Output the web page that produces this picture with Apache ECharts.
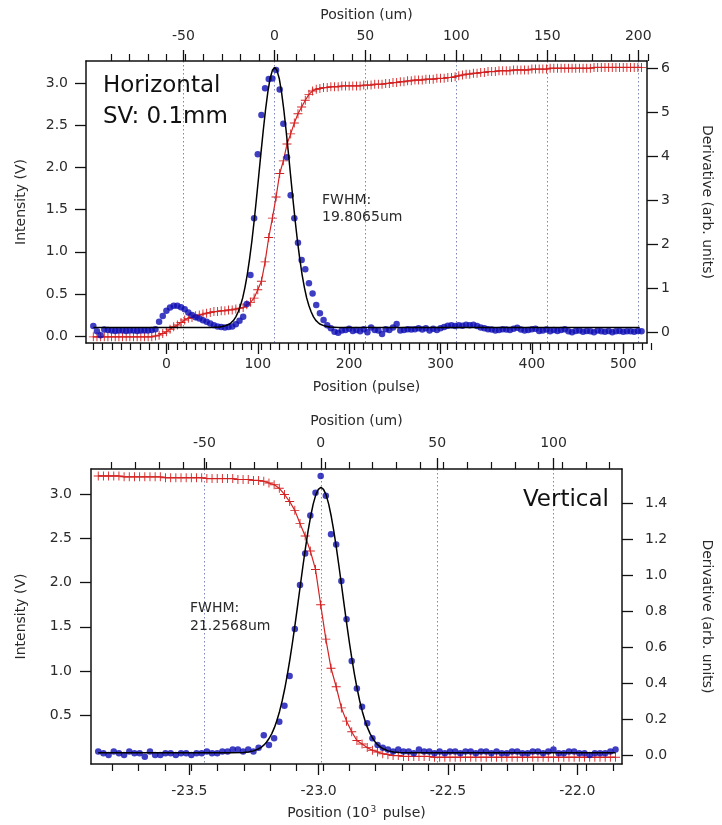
<!DOCTYPE html>
<html><head><meta charset="utf-8">
<script src="https://cdn.jsdelivr.net/npm/echarts@6/dist/echarts.min.js"></script>
<style>html,body{margin:0;padding:0;background:#fff}#c{width:722px;height:825px}</style>
</head><body><div id="c"></div>
<script>
// ===== Top panel: Horizontal scan (x in pulses, sampled every 4 pulses) =====
const topPulseStart = -80, topPulseStep = 4;
// derivative (arb. units, right axis) - blue dots
const topDeriv = [
 0.15,0.03,-0.06,0.07,0.06,0.05,0.04,0.05,0.05,0.04,
 0.05,0.05,0.04,0.05,0.05,0.05,0.06,0.08,0.25,0.38,
 0.50,0.57,0.61,0.61,0.58,0.53,0.46,0.40,0.35,0.32,
 0.28,0.25,0.21,0.17,0.14,0.13,0.12,0.13,0.14,0.19,
 0.27,0.36,0.65,1.31,2.60,4.05,4.94,5.55,5.76,5.77,
 5.96,5.52,4.74,3.98,3.12,2.60,2.04,1.65,1.44,1.12,
 0.89,0.63,0.44,0.29,0.17,0.10,0.02,0.00,0.05,0.06,
 0.09,0.04,0.06,0.03,0.08,0.01,0.12,0.06,0.05,-0.03,
 0.08,0.06,0.12,0.20,0.05,0.06,0.08,0.07,0.08,0.10,
 0.07,0.10,0.05,0.09,0.06,0.10,0.13,0.16,0.17,0.15,
 0.17,0.16,0.18,0.17,0.18,0.15,0.12,0.10,0.08,0.07,
 0.05,0.06,0.08,0.07,0.06,0.09,0.11,0.07,0.05,0.06,
 0.08,0.09,0.04,0.05,0.07,0.03,0.06,0.04,0.06,0.08,
 0.03,0.01,0.04,0.05,0.02,0.04,0.03,0.01,0.05,0.03,
 0.02,0.04,0.01,0.03,0.04,0.02,0.03,0.03,0.02,0.04,
 0.03];
// intensity (V, left axis) - red crosses
const topIntensity = [
 -0.01,-0.01,-0.01,-0.01,-0.01,-0.01,-0.01,-0.01,-0.01,-0.01,
 -0.01,-0.01,-0.01,-0.01,-0.01,-0.01,-0.01,0.00,0.01,0.03,
 0.05,0.08,0.11,0.13,0.16,0.19,0.21,0.22,0.24,0.25,
 0.26,0.27,0.28,0.29,0.29,0.30,0.30,0.31,0.31,0.32,
 0.33,0.34,0.37,0.40,0.45,0.55,0.65,0.88,1.17,1.40,
 1.65,1.93,2.08,2.28,2.40,2.53,2.64,2.72,2.80,2.87,
 2.91,2.93,2.94,2.95,2.95,2.96,2.96,2.96,2.97,2.97,
 2.97,2.97,2.97,2.97,2.98,2.98,2.98,2.99,2.99,2.99,
 3.00,3.00,3.01,3.01,3.02,3.02,3.03,3.03,3.04,3.04,
 3.04,3.05,3.05,3.05,3.06,3.06,3.06,3.07,3.07,3.08,
 3.09,3.10,3.11,3.11,3.12,3.12,3.13,3.13,3.14,3.14,
 3.14,3.15,3.15,3.15,3.15,3.16,3.16,3.16,3.16,3.16,
 3.17,3.17,3.17,3.17,3.17,3.18,3.18,3.18,3.18,3.18,
 3.18,3.18,3.18,3.18,3.18,3.18,3.18,3.19,3.19,3.19,
 3.19,3.19,3.19,3.19,3.19,3.19,3.19,3.19,3.19,3.19,
 3.19];
// Gaussian fit of derivative (black line)
const topFitX = [-80,48.5,58.5,63.5,68.5,71,73.5,76,78.5,81,83.5,86,88.5,91,93.5,96,98.5,101,103.5,106,108.5,111,113.5,116,118.5,
 121,123.5,126,128.5,131,133.5,136,138.5,141,143.5,146,148.5,151,153.5,156,158.5,161,163.5,166,168.5,173.5,178.5,188.5,518];
const topFitY = [0.12,0.12,0.13,0.15,0.19,0.23,0.28,0.36,0.47,0.61,0.79,1.03,1.32,1.67,2.07,2.53,3.03,3.55,4.08,4.59,5.06,5.46,5.77,5.955,6.02,
 5.955,5.77,5.46,5.06,4.59,4.08,3.55,3.03,2.53,2.07,1.67,1.32,1.03,0.79,0.61,0.47,0.36,0.28,0.23,0.19,0.15,0.13,0.12,0.12];
const topPulseTicks = [0,100,200,300,400,500];
const topUmTicks = [-50,0,50,100,150,200];
const topIntTicks = [0,0.5,1,1.5,2,2.5,3];
const topDerTicks = [0,1,2,3,4,5,6];

// ===== Bottom panel: Vertical scan (x in 10^3 pulses, sampled every 0.02) =====
const botStart = -23.852, botStep = 0.02;
const botDeriv = [
 0.02,0.01,0.00,0.02,0.01,0.00,0.02,0.01,0.01,-0.01,
 0.02,0.00,0.00,0.01,0.01,0.00,0.01,0.01,0.00,0.01,
 0.01,0.02,0.01,0.01,0.02,0.02,0.03,0.03,0.02,0.03,
 0.02,0.04,0.11,0.056,0.093,0.185,0.274,0.439,0.70,0.944,
 1.12,1.33,1.457,1.55,1.44,1.226,1.17,0.967,0.754,0.522,
 0.37,0.268,0.176,0.093,0.056,0.04,0.03,0.02,0.03,0.02,
 0.02,0.01,0.03,0.02,0.02,0.01,0.02,0.01,0.02,0.02,
 0.01,0.02,0.02,0.01,0.02,0.02,0.01,0.02,0.01,0.01,
 0.02,0.02,0.01,0.01,0.02,0.02,0.01,0.02,0.03,0.01,
 0.01,0.02,0.02,0.01,0.01,0.00,0.01,0.01,0.01,0.02,
 0.03];
const botIntensity = [
 3.21,3.21,3.21,3.21,3.21,3.20,3.20,3.20,3.20,3.20,
 3.20,3.20,3.20,3.19,3.19,3.19,3.19,3.19,3.19,3.19,
 3.19,3.18,3.18,3.18,3.18,3.18,3.18,3.17,3.17,3.17,
 3.16,3.16,3.15,3.13,3.11,3.07,3.00,2.92,2.82,2.67,
 2.53,2.36,2.15,1.75,1.36,1.03,0.82,0.58,0.43,0.31,
 0.21,0.17,0.13,0.10,0.08,0.06,0.05,0.04,0.04,0.03,
 0.03,0.03,0.03,0.03,0.03,0.02,0.02,0.02,0.02,0.02,
 0.02,0.02,0.02,0.02,0.02,0.02,0.02,0.02,0.02,0.02,
 0.02,0.02,0.02,0.02,0.02,0.02,0.02,0.02,0.02,0.02,
 0.02,0.02,0.02,0.02,0.02,0.02,0.02,0.02,0.02,0.02,
 0.02];
const botFitX = [-23.852,-23.341,-23.291,-23.271,-23.251,-23.231,-23.221,-23.211,-23.201,-23.191,-23.181,-23.171,-23.161,-23.151,-23.141,
 -23.131,-23.121,-23.111,-23.101,-23.091,-23.081,-23.071,-23.061,-23.051,-23.041,-23.031,-23.021,-23.011,-23.001,-22.991,
 -22.981,-22.971,-22.961,-22.951,-22.941,-22.931,-22.921,-22.911,-22.901,-22.891,-22.881,-22.871,-22.861,-22.851,-22.841,
 -22.831,-22.821,-22.811,-22.801,-22.791,-22.781,-22.771,-22.761,-22.751,-22.731,-22.711,-22.691,-22.641,-21.852];
const botFitY = [0.012,0.012,0.014,0.017,0.023,0.035,0.044,0.056,0.072,0.093,0.119,0.152,0.193,0.242,0.300,
 0.368,0.445,0.531,0.625,0.726,0.831,0.939,1.046,1.148,1.242,1.325,1.394,1.445,1.476,1.487,
 1.476,1.445,1.394,1.325,1.242,1.148,1.046,0.939,0.831,0.726,0.625,0.531,0.445,0.368,0.300,
 0.242,0.193,0.152,0.119,0.093,0.072,0.056,0.044,0.035,0.023,0.017,0.014,0.012,0.012];
const botPulseTicks = [-23.5,-23.0,-22.5,-22.0];
const botUmTicks = [-50,0,50,100];
const botIntTicks = [0.5,1,1.5,2,2.5,3];
const botDerTicks = [0,0.2,0.4,0.6,0.8,1.0,1.2,1.4];

// ---------- helpers ----------
function range(a, b, s, d) { const r = []; for (let v = a; v <= b + s / 1000; v += s) r.push(+v.toFixed(d)); return r; }
const topPulseMinor = range(-80, 520, 10, 0);
const topUmMinor = range(-90, 200, 10, 0);
const botPulseMinor = range(-23.8, -21.9, 0.1, 1);
const botUmMinor = range(-90, 120, 10, 0);
function sampled(start, step, arr) { return arr.map((v, i) => [+(start + i * step).toFixed(4), v]); }
function zip(xs, ys) { return xs.map((x, i) => [x, ys[i]]); }

const FONT = 'DejaVu Sans', TXT = '#2a2a2a', AX = '#111';
const RED = '#d42222', BLUE = '#0e0eb4';
const CROSS = 'path://M0,4.5H10V5.5H0Z M4.5,0H5.5V10H4.5Z';

function majorAxis(gi, pos, min, max, ticks, fmt, margin, name, nameGap, split, extra) {
  const ax = {
    type: 'value', gridIndex: gi, position: pos, min: min, max: max,
    axisLine: { show: true, onZero: false, lineStyle: { color: AX, width: 1.5 } },
    axisTick: { show: true, inside: false, length: 11, customValues: ticks, lineStyle: { color: AX, width: 1.3 } },
    axisLabel: { show: true, customValues: ticks, formatter: fmt, margin: margin, color: TXT, fontSize: 14, fontFamily: FONT },
    splitLine: split ? { show: true, lineStyle: { type: [1.5, 2.5], color: '#7c86b4', width: 1 } } : { show: false },
    name: name, nameLocation: 'middle', nameGap: nameGap,
    nameTextStyle: { color: TXT, fontSize: 14, fontFamily: FONT }
  };
  if (extra) Object.keys(extra).forEach(k => { ax[k] = extra[k]; });
  return ax;
}
function minorAxis(gi, pos, min, max, ticks) {
  return {
    type: 'value', gridIndex: gi, position: pos, min: min, max: max,
    axisLine: { show: false, onZero: false },
    axisTick: { show: true, inside: false, length: 7, customValues: ticks, lineStyle: { color: AX, width: 1.2 } },
    axisLabel: { show: false }, splitLine: { show: false }
  };
}
const f1 = v => v.toFixed(1), f0 = v => String(v);

const option = {
  animation: false,
  backgroundColor: '#fff',
  grid: [
    { left: 86, top: 61, width: 571, height: 282 },
    { left: 86, top: 61, width: 571, height: 282 },
    { left: 91, top: 469, width: 541, height: 295 },
    { left: 91, top: 469, width: 541, height: 295 }
  ],
  xAxis: [
    majorAxis(0, 'bottom', -88, 526, topPulseTicks, f0, 14, 'Position (pulse)', 37, false),
    majorAxis(0, 'top', -103.5, 204.8, topUmTicks, f0, 18, 'Position (um)', 39, true),
    minorAxis(1, 'bottom', -88, 526, topPulseMinor),
    minorAxis(1, 'top', -103.5, 204.8, topUmMinor),
    majorAxis(2, 'bottom', -23.88, -21.827, botPulseTicks, f1, 20, 'Position (10{sup|3} pulse)', 41, false, {
      nameTextStyle: { color: TXT, fontSize: 14, fontFamily: FONT,
        rich: { sup: { fontSize: 9, fontFamily: FONT, color: TXT, verticalAlign: 'top', padding: [0, 2, 7, 1] } } }
    }),
    majorAxis(2, 'top', -98.7, 129.4, botUmTicks, f0, 19, 'Position (um)', 41, true),
    minorAxis(3, 'bottom', -23.88, -21.827, botPulseMinor),
    minorAxis(3, 'top', -98.7, 129.4, botUmMinor)
  ],
  yAxis: [
    majorAxis(0, 'left', -0.083, 3.266, topIntTicks, f1, 18, 'Intensity (V)', 58, false, { nameRotate: 90 }),
    majorAxis(0, 'right', -0.234, 6.167, topDerTicks, f0, 14, 'Derivative (arb. units)', 53, false, { nameRotate: -90 }),
    { type: 'value', gridIndex: 1, show: false, min: 0, max: 1 },
    majorAxis(2, 'left', -0.056, 3.289, botIntTicks, f1, 19, 'Intensity (V)', 63, false, { nameRotate: 90 }),
    majorAxis(2, 'right', -0.05, 1.589, botDerTicks, f1, 23, 'Derivative (arb. units)', 78, false, { nameRotate: -90 }),
    { type: 'value', gridIndex: 3, show: false, min: 0, max: 1 }
  ],
  series: [
    { type: 'line', xAxisIndex: 0, yAxisIndex: 0, data: sampled(topPulseStart, topPulseStep, topIntensity),
      symbol: CROSS, symbolSize: 9, itemStyle: { color: RED }, lineStyle: { color: RED, width: 1.2 }, z: 2, silent: true },
    { type: 'scatter', xAxisIndex: 0, yAxisIndex: 1, data: sampled(topPulseStart, topPulseStep, topDeriv),
      symbol: 'circle', symbolSize: 6.5, itemStyle: { color: BLUE }, z: 3, silent: true },
    { type: 'line', xAxisIndex: 0, yAxisIndex: 1, data: zip(topFitX, topFitY), showSymbol: false,
      lineStyle: { color: '#000', width: 1.5 }, z: 4, silent: true },
    { type: 'line', xAxisIndex: 4, yAxisIndex: 3, data: sampled(botStart, botStep, botIntensity),
      symbol: CROSS, symbolSize: 9, itemStyle: { color: RED }, lineStyle: { color: RED, width: 1.2 }, z: 2, silent: true },
    { type: 'scatter', xAxisIndex: 4, yAxisIndex: 4, data: sampled(botStart, botStep, botDeriv),
      symbol: 'circle', symbolSize: 6.5, itemStyle: { color: BLUE }, z: 3, silent: true },
    { type: 'line', xAxisIndex: 4, yAxisIndex: 4, data: zip(botFitX, botFitY), showSymbol: false,
      lineStyle: { color: '#000', width: 1.5 }, z: 4, silent: true }
  ],
  graphic: [
    { type: 'text', x: 103, y: 86, z: 10, style: { text: 'Horizontal', font: '23px "DejaVu Sans"', fill: '#111', verticalAlign: 'middle' } },
    { type: 'text', x: 103, y: 117, z: 10, style: { text: 'SV: 0.1mm', font: '23px "DejaVu Sans"', fill: '#111', verticalAlign: 'middle' } },
    { type: 'text', x: 322, y: 200, z: 10, style: { text: 'FWHM:', font: '14px "DejaVu Sans"', fill: TXT, verticalAlign: 'middle' } },
    { type: 'text', x: 322, y: 217, z: 10, style: { text: '19.8065um', font: '14px "DejaVu Sans"', fill: TXT, verticalAlign: 'middle' } },
    { type: 'text', x: 609, y: 500, z: 10, style: { text: 'Vertical', font: '23px "DejaVu Sans"', fill: '#111', align: 'right', verticalAlign: 'middle' } },
    { type: 'text', x: 190, y: 608, z: 10, style: { text: 'FWHM:', font: '14px "DejaVu Sans"', fill: TXT, verticalAlign: 'middle' } },
    { type: 'text', x: 190, y: 626, z: 10, style: { text: '21.2568um', font: '14px "DejaVu Sans"', fill: TXT, verticalAlign: 'middle' } }
  ]
};
echarts.init(document.getElementById('c'), null, { renderer: 'canvas' }).setOption(option);
</script>
</body></html>
